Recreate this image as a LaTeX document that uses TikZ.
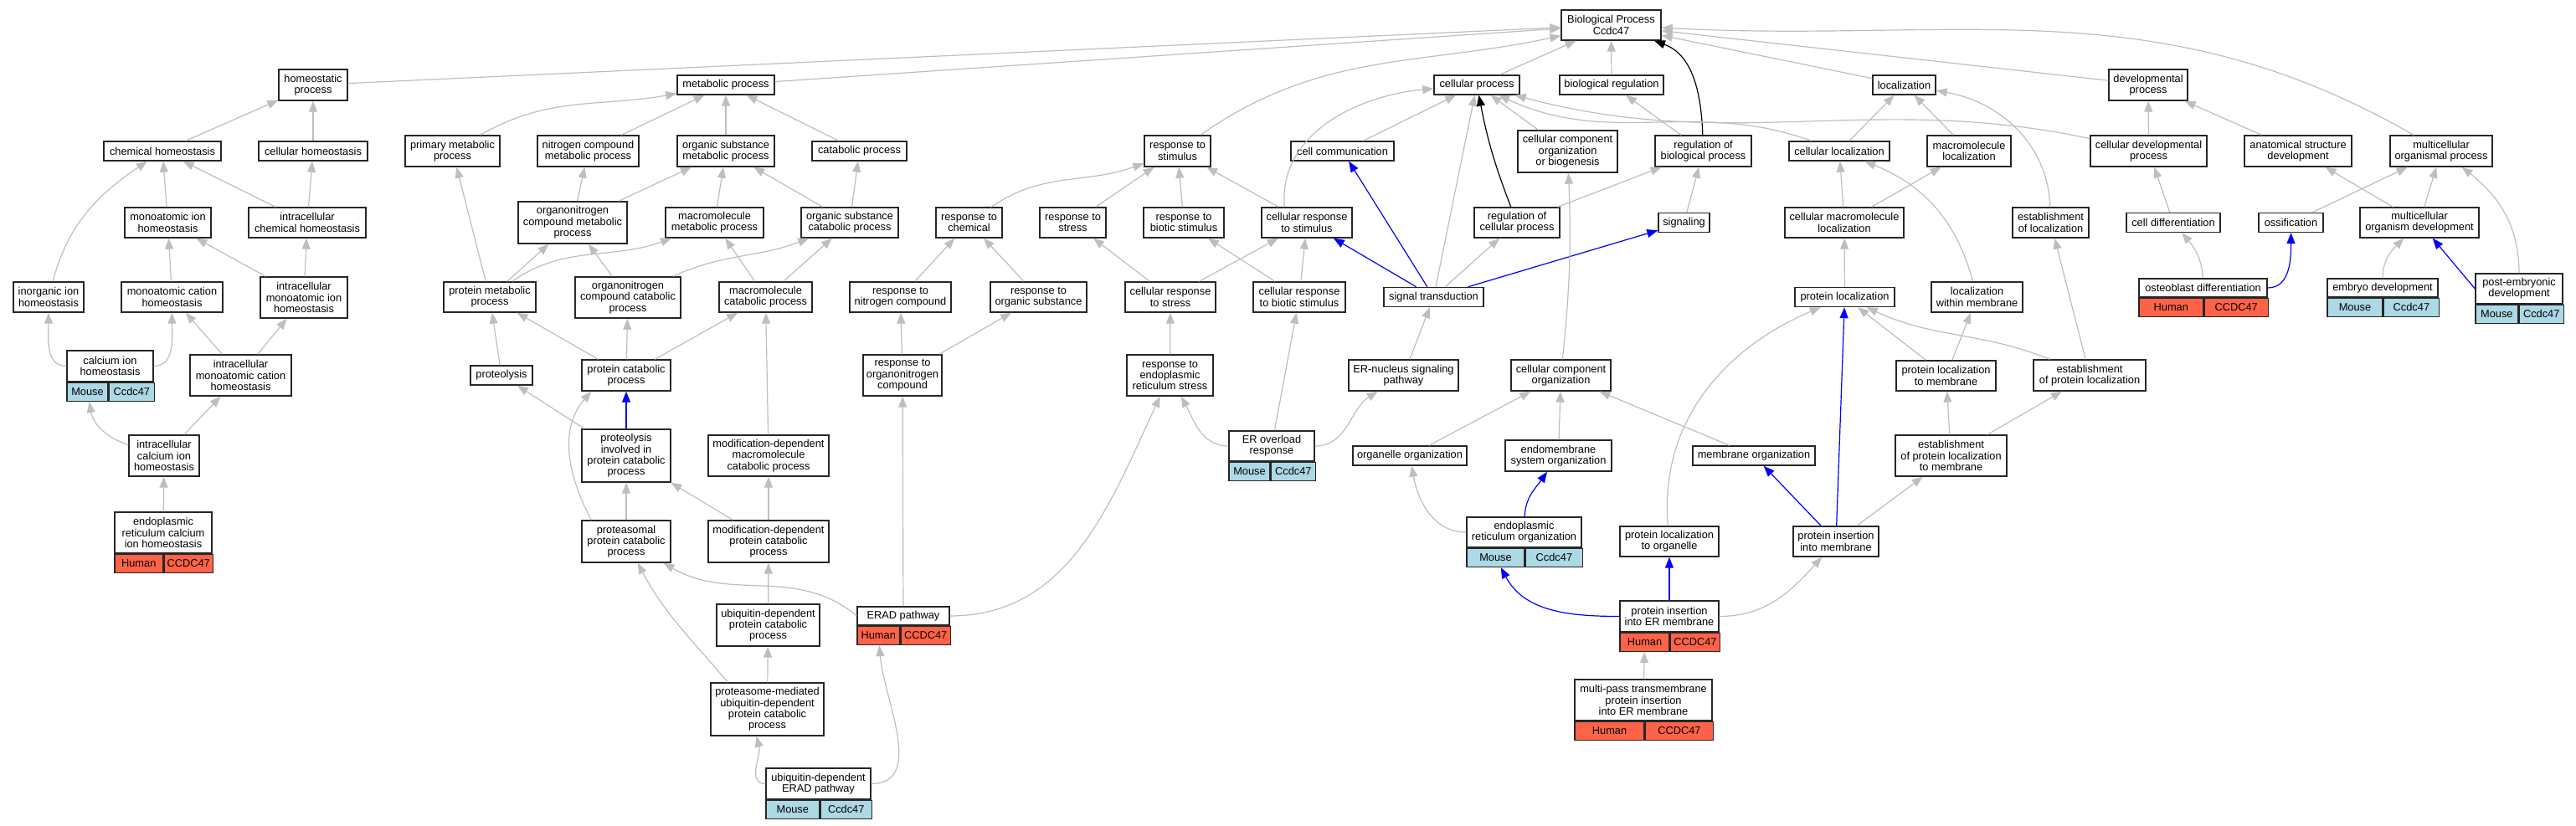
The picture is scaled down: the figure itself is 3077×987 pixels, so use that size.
\documentclass[tikz,border=0pt]{standalone}
\usepackage{fontspec}
\setmainfont{Liberation Sans}
\usetikzlibrary{arrows.meta,positioning}
\definecolor{edgegray}{HTML}{BEBEBE}
\definecolor{humanred}{HTML}{FF6347}
\definecolor{mouseblue}{HTML}{ADD8E6}

\begin{document}
\begin{tikzpicture}[x=1pt, y=1pt, >={Triangle[length=13pt,width=10pt]},
    term/.style={draw=black!85, line width=1.4pt, fill=white, inner sep=0pt, align=center, font=\fontsize{12.8}{13.3}\selectfont},
    sz/.style 2 args={minimum width=#1, minimum height=#2},
    human cell/.style={term, fill=humanred, minimum height=22, anchor=north west},
    mouse cell/.style={term, fill=mouseblue, minimum height=22, anchor=north west},
    isa/.style={draw=edgegray, line width=1.2pt, ->},
    hit/.style={draw=blue, line width=1.2pt, ->},
    reg/.style={draw=black, line width=1.2pt, ->}]
                \useasboundingbox (0,0) rectangle (3077,987);

                \node[term, sz={119}{36}] at (1924.5, 957) (bp) {Biological Process\\Ccdc47};
                \node[term, sz={82}{37}] at (374, 885.5) (homeo) {homeostatic\\process};
                \node[term, sz={116}{23}] at (867, 885.5) (metab) {metabolic process};
                \node[term, sz={102}{23}] at (1764, 885.5) (cellproc) {cellular process};
                \node[term, sz={124}{23}] at (1925, 885.5) (bioreg) {biological regulation};
                \node[term, sz={75}{23}] at (2274.5, 885.5) (local) {localization};
                \node[term, sz={94}{37}] at (2566, 885.5) (devproc) {developmental\\process};

                \node[term, sz={140}{23}] at (194, 806.5) (chemhom) {chemical homeostasis};
                \node[term, sz={130}{23}] at (374, 806.5) (cellhom) {cellular homeostasis};
                \node[term, sz={113}{37}] at (540.5, 806.5) (primmet) {primary metabolic\\process};
                \node[term, sz={121}{37}] at (702.5, 806.5) (nitmet) {nitrogen compound\\metabolic process};
                \node[term, sz={116}{37}] at (867, 806.5) (orgsubmet) {organic substance\\metabolic process};
                \node[term, sz={113}{23}] at (1026.5, 806.5) (catab) {catabolic process};
                \node[term, sz={79}{37}] at (1406.5, 806.5) (respstim) {response to\\stimulus};
                \node[term, sz={123}{23}] at (1603.5, 806.5) (cellcomm) {cell communication};
                \node[term, sz={119}{50}] at (1872.5, 806) (ccob) {cellular component\\organization\\or biogenesis};
                \node[term, sz={115}{37}] at (2034.5, 806.5) (regbio) {regulation of\\biological process};
                \node[term, sz={120}{23}] at (2197, 806.5) (cellloc) {cellular localization};
                \node[term, sz={100}{37}] at (2352, 806.5) (macloc) {macromolecule\\localization};
                \node[term, sz={139}{37}] at (2566.5, 806.5) (celldev) {cellular developmental\\process};
                \node[term, sz={128}{37}] at (2745, 806.5) (anat) {anatomical structure\\development};
                \node[term, sz={122}{37}] at (2916, 806.5) (multorg) {multicellular\\organismal process};

                \node[term, sz={103}{36}] at (200.5, 721) (monoion) {monoatomic ion\\homeostasis};
                \node[term, sz={140}{36}] at (367, 721) (intchem) {intracellular\\chemical homeostasis};
                \node[term, sz={130}{50}] at (684, 721) (orgnitmet) {organonitrogen\\compound metabolic\\process};
                \node[term, sz={117}{36}] at (853.5, 721) (macmet) {macromolecule\\metabolic process};
                \node[term, sz={116}{36}] at (1015, 721) (orgsubcat) {organic substance\\catabolic process};
                \node[term, sz={79}{36}] at (1157.5, 721) (respchem) {response to\\chemical};
                \node[term, sz={79}{36}] at (1281.5, 721) (respstress) {response to\\stress};
                \node[term, sz={96}{36}] at (1414, 721) (respbiot) {response to\\biotic stimulus};
                \node[term, sz={108}{36}] at (1561, 721) (cellrespstim) {cellular response\\to stimulus};
                \node[term, sz={102}{36}] at (1812, 721) (regcell) {regulation of\\cellular process};
                \node[term, sz={61}{23}] at (2011.5, 721) (signaling) {signaling};
                \node[term, sz={142}{36}] at (2203, 721) (cellmacloc) {cellular macromolecule\\localization};
                \node[term, sz={91}{36}] at (2449.5, 721) (estloc) {establishment\\of localization};
                \node[term, sz={112}{23}] at (2596, 721) (celldiff) {cell differentiation};
                \node[term, sz={77}{23}] at (2736.5, 721) (ossif) {ossification};
                \node[term, sz={142}{36}] at (2890, 721) (multdev) {multicellular\\organism development};

                \node[term, sz={84}{36}] at (58, 632) (inorgion) {inorganic ion\\homeostasis};
                \node[term, sz={121}{36}] at (205.5, 632) (monocat) {monoatomic cation\\homeostasis};
                \node[term, sz={104}{49}] at (363, 631.5) (intmonoion) {intracellular\\monoatomic ion\\homeostasis};
                \node[term, sz={110}{36}] at (585, 632) (protmet) {protein metabolic\\process};
                \node[term, sz={126}{49}] at (750, 631.5) (orgnitcat) {organonitrogen\\compound catabolic\\process};
                \node[term, sz={111}{36}] at (914.5, 632) (maccat) {macromolecule\\catabolic process};
                \node[term, sz={121}{36}] at (1075.5, 632) (respnit) {response to\\nitrogen compound};
                \node[term, sz={115}{36}] at (1240.5, 632) (resporg) {response to\\organic substance};
                \node[term, sz={108}{36}] at (1398, 632) (cellrespstress) {cellular response\\to stress};
                \node[term, sz={110}{36}] at (1552, 632) (cellrespbiot) {cellular response\\to biotic stimulus};
                \node[term, sz={119}{23}] at (1712.5, 632) (sigtrans) {signal transduction};
                \node[term, sz={119}{23}] at (2203.5, 632) (protloc) {protein localization};
                \node[term, sz={109}{36}] at (2361.5, 632) (locmem) {localization\\within membrane};

                \node[term, sz={153}{22}] at (2631.5, 643) (osteo) {osteoblast differentiation};
                \node[human cell, minimum width=76.5] at (osteo.south west) (osteo-h) {Human};
                \node[human cell, minimum width=76.5] at (osteo-h.north east) (osteo-g) {CCDC47};

                \node[term, sz={132}{22}] at (2846, 643) (embryo) {embryo development};
                \node[mouse cell, minimum width=66] at (embryo.south west) (embryo-m) {Mouse};
                \node[mouse cell, minimum width=66] at (embryo-m.north east) (embryo-g) {Ccdc47};

                \node[term, sz={104}{36}] at (3009, 642) (postemb) {post-embryonic\\development};
                \node[mouse cell, minimum width=50.6] at (postemb.south west) (postemb-m) {Mouse};
                \node[mouse cell, minimum width=53.4] at (postemb-m.north east) (postemb-g) {Ccdc47};

                \node[term, sz={103}{37}] at (131.5, 549.5) (calcium) {calcium ion\\homeostasis};
                \node[mouse cell, minimum width=49] at (calcium.south west) (calcium-m) {Mouse};
                \node[mouse cell, minimum width=54] at (calcium-m.north east) (calcium-g) {Ccdc47};

                \node[term, sz={121}{49}] at (287.5, 538.5) (intmonocat) {intracellular\\monoatomic cation\\homeostasis};
                \node[term, sz={74}{23}] at (599, 538.5) (proteolysis) {proteolysis};
                \node[term, sz={106}{37}] at (748, 538.5) (protcat) {protein catabolic\\process};
                \node[term, sz={94}{49}] at (1078, 538.5) (respon) {response to\\organonitrogen\\compound};
                \node[term, sz={103}{49}] at (1397.5, 538.5) (resper) {response to\\endoplasmic\\reticulum stress};
                \node[term, sz={131}{37}] at (1676.5, 538.5) (ernuc) {ER-nucleus signaling\\pathway};
                \node[term, sz={119}{37}] at (1864.5, 538.5) (cco) {cellular component\\organization};
                \node[term, sz={119}{36}] at (2324.5, 538) (protlocmem) {protein localization\\to membrane};
                \node[term, sz={134}{37}] at (2496, 538.5) (estprotloc) {establishment\\of protein localization};

                \node[term, sz={84}{49}] at (196, 442.5) (intcalc) {intracellular\\calcium ion\\homeostasis};
                \node[term, sz={106}{63}] at (748, 442.5) (protinv) {proteolysis\\involved in\\protein catabolic\\process};
                \node[term, sz={144}{49}] at (918, 442.5) (moddepmac) {modification-dependent\\macromolecule\\catabolic process};

                \node[term, sz={102}{36}] at (1519, 454) (erover) {ER overload\\response};
                \node[mouse cell, minimum width=49] at (erover.south west) (erover-m) {Mouse};
                \node[mouse cell, minimum width=53] at (erover-m.north east) (erover-g) {Ccdc47};

                \node[term, sz={136}{23}] at (1684, 442.5) (orgorg) {organelle organization};
                \node[term, sz={127}{37}] at (1861.5, 442.5) (endomem) {endomembrane\\system organization};
                \node[term, sz={146}{23}] at (2095, 442.5) (memorg) {membrane organization};
                \node[term, sz={133}{49}] at (2330.5, 442.5) (estprotlocmem) {establishment\\of protein localization\\to membrane};

                \node[term, sz={116}{49}] at (195, 350.5) (ercalc) {endoplasmic\\reticulum calcium\\ion homeostasis};
                \node[human cell, minimum width=57.5] at (ercalc.south west) (ercalc-h) {Human};
                \node[human cell, minimum width=58.5] at (ercalc-h.north east) (ercalc-g) {CCDC47};

                \node[term, sz={106}{50}] at (748, 340) (proteasomal) {proteasomal\\protein catabolic\\process};
                \node[term, sz={144}{50}] at (918, 340) (moddepprot) {modification-dependent\\protein catabolic\\process};

                \node[term, sz={137}{36}] at (1820.5, 351) (erorg) {endoplasmic\\reticulum organization};
                \node[mouse cell, minimum width=69] at (erorg.south west) (erorg-m) {Mouse};
                \node[mouse cell, minimum width=68] at (erorg-m.north east) (erorg-g) {Ccdc47};

                \node[term, sz={118}{36}] at (1994, 340) (protlocorg) {protein localization\\to organelle};
                \node[term, sz={102}{36}] at (2193, 340) (protinsmem) {protein insertion\\into membrane};

                \node[term, sz={123}{50}] at (917.5, 240) (ubiqprot) {ubiquitin-dependent\\protein catabolic\\process};

                \node[term, sz={110}{22}] at (1079, 251) (erad) {ERAD pathway};
                \node[human cell, minimum width=50.5] at (erad.south west) (erad-h) {Human};
                \node[human cell, minimum width=59.5] at (erad-h.north east) (erad-g) {CCDC47};

                \node[term, sz={118}{37}] at (1994, 250.5) (protinser) {protein insertion\\into ER membrane};
                \node[human cell, minimum width=59] at (protinser.south west) (protinser-h) {Human};
                \node[human cell, minimum width=59] at (protinser-h.north east) (protinser-g) {CCDC47};

                \node[term, sz={135}{63}] at (916.5, 139.5) (protmed) {proteasome-mediated\\ubiquitin-dependent\\protein catabolic\\process};

                \node[term, sz={164}{49}] at (1963, 150.5) (multipass) {multi-pass transmembrane\\protein insertion\\into ER membrane};
                \node[human cell, minimum width=83] at (multipass.south west) (multipass-h) {Human};
                \node[human cell, minimum width=81] at (multipass-h.north east) (multipass-g) {CCDC47};

                \node[term, sz={125}{37}] at (977.5, 50.5) (ubiqerad) {ubiquitin-dependent\\ERAD pathway};
                \node[mouse cell, minimum width=63.6] at (ubiqerad.south west) (ubiqerad-m) {Mouse};
                \node[mouse cell, minimum width=61.4] at (ubiqerad-m.north east) (ubiqerad-g) {Ccdc47};

                \path
                    (homeo) edge[isa] (bp)
                    (metab) edge[isa] (bp)
                    (respstim) edge[isa, out=35, in=192] (bp)
                    (cellproc) edge[isa] (bp)
                    (bioreg) edge[isa] (bp)
                    (regbio) edge[reg, out=92, in=-20] (bp)
                    (local) edge[isa] (bp)
                    (devproc) edge[isa] (bp)
                    (multorg) edge[isa, out=150, in=-3] (bp)

                    (chemhom) edge[isa] (homeo)
                    (cellhom) edge[isa] (homeo)
                    (monoion) edge[isa] (chemhom)
                    (intchem) edge[isa] (chemhom)
                    (intchem) edge[isa] (cellhom)
                    (inorgion) edge[isa, out=75, in=214] (chemhom)
                    (monocat) edge[isa] (monoion)
                    (intmonoion) edge[isa] (monoion)
                    (intmonoion) edge[isa] (intchem)
                    (calcium) edge[isa, out=180, in=-90] (inorgion)
                    (calcium) edge[isa, out=0, in=-90] (monocat)
                    (intmonocat) edge[isa] (monocat)
                    (intmonocat) edge[isa] (intmonoion)
                    (intcalc) edge[isa, out=163, in=-80] (calcium-m)
                    (intcalc) edge[isa] (intmonocat)
                    (ercalc) edge[isa] (intcalc)

                    (primmet) edge[isa, out=30, in=190] (metab)
                    (nitmet) edge[isa] (metab)
                    (orgsubmet) edge[isa] (metab)
                    (catab) edge[isa] (metab)
                    (orgnitmet) edge[isa] (nitmet)
                    (orgnitmet) edge[isa] (orgsubmet)
                    (macmet) edge[isa] (orgsubmet)
                    (orgsubcat) edge[isa] (orgsubmet)
                    (orgsubcat) edge[isa] (catab)
                    (protmet) edge[isa] (primmet)
                    (protmet) edge[isa] (orgnitmet)
                    (protmet) edge[isa, out=35, in=200] (macmet)
                    (orgnitcat) edge[isa] (orgnitmet)
                    (orgnitcat) edge[isa, out=25, in=201] (orgsubcat)
                    (maccat) edge[isa] (macmet)
                    (maccat) edge[isa] (orgsubcat)
                    (proteolysis) edge[isa] (protmet)
                    (protcat) edge[isa] (protmet)
                    (protcat) edge[isa] (orgnitcat)
                    (protcat) edge[isa] (maccat)
                    (protinv) edge[isa] (proteolysis)
                    (protinv) edge[hit] (protcat)
                    (proteasomal) edge[isa] (protinv)
                    ([xshift=12]proteasomal.north west) edge[isa, out=118, in=229] ([xshift=12]protcat.south west)
                    (moddepmac) edge[isa] (maccat)
                    (moddepprot) edge[isa] (moddepmac)
                    (moddepprot) edge[isa] (protinv)
                    (ubiqprot) edge[isa] (moddepprot)
                    (erad.west) edge[isa, out=140, in=-30] (proteasomal)
                    (erad) edge[isa] (respon)
                    (erad) edge[isa, out=0, in=-115] (resper)
                    (protmed) edge[isa] (ubiqprot)
                    ([xshift=21]protmed.north west) edge[isa, out=130, in=-62] (proteasomal)
                    (ubiqerad) edge[isa, out=180, in=-75] ([xshift=-13]protmed.south)
                    (ubiqerad) edge[isa, out=0, in=-85] (erad-h)

                    (respchem) edge[isa, out=35, in=200] (respstim)
                    (respstress) edge[isa] (respstim)
                    (respbiot) edge[isa] (respstim)
                    (cellrespstim) edge[isa] (respstim)
                    ([xshift=28]cellrespstim.north west) edge[isa, out=95, in=185] (cellproc)
                    (respnit) edge[isa] (respchem)
                    (resporg) edge[isa] (respchem)
                    (respon) edge[isa] (respnit)
                    (respon) edge[isa] (resporg)
                    (cellrespstress) edge[isa] (respstress)
                    (cellrespstress) edge[isa] (cellrespstim)
                    (cellrespbiot) edge[isa] (respbiot)
                    (cellrespbiot) edge[isa] (cellrespstim)
                    (resper) edge[isa] (cellrespstress)
                    (erover) edge[isa, out=180, in=-62] (resper)
                    (erover) edge[isa] (cellrespbiot)
                    (erover) edge[isa, out=0, in=212] (ernuc)

                    (cellcomm) edge[isa] (cellproc)
                    (sigtrans) edge[isa] (cellproc)
                    (regcell) edge[reg, bend left=5] (cellproc)
                    (ccob) edge[isa] (cellproc)
                    (cellloc) edge[isa, out=160, in=-25] (cellproc)
                    (celldev) edge[isa, out=168, in=-15] (cellproc)
                    (sigtrans) edge[hit] (cellcomm)
                    (sigtrans) edge[hit] (cellrespstim)
                    (sigtrans) edge[isa] (regcell)
                    (sigtrans) edge[hit] (signaling)
                    (ernuc) edge[isa] (sigtrans)
                    (regcell) edge[isa] (regbio)
                    (signaling) edge[isa] (regbio)
                    (regbio) edge[isa] (bioreg)
                    (cco) edge[isa, bend right=4] (ccob)
                    (orgorg) edge[isa] (cco)
                    (endomem) edge[isa] (cco)
                    (memorg) edge[isa] (cco)
                    (erorg) edge[isa, out=180, in=-80] (orgorg)
                    (erorg) edge[hit, out=88, in=-125] (endomem)
                    (protinser) edge[hit, out=180, in=-62] (erorg-m)
                    (protinser) edge[hit] (protlocorg)
                    (protinser) edge[isa, out=0, in=-132] (protinsmem)
                    (multipass) edge[isa] (protinser-h)
                    (protinsmem) edge[hit] (memorg)
                    (protinsmem) edge[hit] (protloc)
                    (protinsmem) edge[isa] (estprotlocmem)
                    (protlocorg) edge[isa, out=95, in=203] (protloc)

                    (cellloc) edge[isa] (local)
                    (macloc) edge[isa] (local)
                    (estloc) edge[isa, out=92, in=-10] (local)
                    (cellmacloc) edge[isa] (cellloc)
                    (cellmacloc) edge[isa] (macloc)
                    (locmem) edge[isa, out=105, in=-22] (cellloc)
                    (protloc) edge[isa] (cellmacloc)
                    (protlocmem) edge[isa] (protloc)
                    (protlocmem) edge[isa] (locmem)
                    (estprotloc) edge[isa, out=158, in=-25] (protloc)
                    (estprotloc) edge[isa] (estloc)
                    (estprotlocmem) edge[isa] (protlocmem)
                    (estprotlocmem) edge[isa] (estprotloc)

                    (celldev) edge[isa] (devproc)
                    (anat) edge[isa] (devproc)
                    (celldiff) edge[isa] (celldev)
                    (ossif) edge[isa] (multorg)
                    (multdev) edge[isa] (anat)
                    (multdev) edge[isa] (multorg)
                    (osteo) edge[isa, out=92, in=-50] (celldiff)
                    (osteo) edge[hit, out=0, in=-90] (ossif)
                    (embryo) edge[isa, out=90, in=-135] (multdev)
                    (postemb.west) edge[hit] (multdev)
                    (postemb) edge[isa, out=90, in=-38] (multorg)
                    ;
            \end{tikzpicture}
\end{document}
